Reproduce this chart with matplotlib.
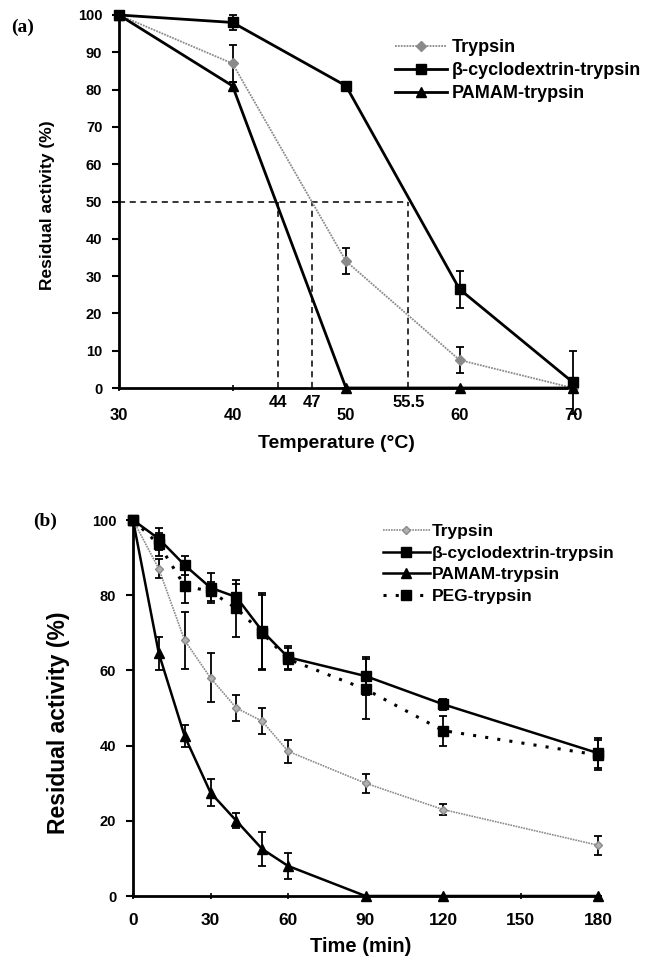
import matplotlib
matplotlib.use("Agg")
import matplotlib.pyplot as plt
import matplotlib.transforms as mtransforms

plt.rcParams['font.family'] = ['Liberation Sans', 'DejaVu Sans']
plt.rcParams['font.weight'] = 'bold'
plt.rcParams['axes.labelweight'] = 'bold'

# panel (a) thermal stability
temp = [30, 40, 50, 60, 70]
a_tryp = [100, 87, 34, 7.5, 0]
a_tryp_err = [0, 5, 3.5, 3.5, 0]
a_cd = [100, 98, 81, 26.5, 1.5]
a_cd_err = [0, 2, 0.5, 5, 8.5]
a_pamam = [100, 81, 0, 0, 0]
a_pamam_err = [0, 1, 0, 0, 0]
t50_temps = [44, 47, 55.5]
t50_labels = ['44', '47', '55.5']

# panel (b) time course
tmin = [0, 10, 20, 30, 40, 50, 60, 90, 120, 180]
b_tryp = [100, 87, 68, 58, 50, 46.5, 38.5, 30, 23, 13.5]
b_tryp_err = [0, 2.5, 7.5, 6.5, 3.5, 3.5, 3, 2.5, 1.5, 2.5]
b_cd = [100, 95, 88, 82, 79.5, 70.5, 63.5, 58.5, 51, 38]
b_cd_err = [0, 3, 2.5, 4, 3.5, 10, 3, 5, 1.5, 4]
b_pamam = [100, 64.5, 42.5, 27.5, 20, 12.5, 8, 0, 0, 0]
b_pamam_err = [0, 4.5, 3, 3.5, 2, 4.5, 3.5, 0, 0, 0]
b_peg = [100, 93.5, 82.5, 81, 76.5, 70, 63, 55, 44, 37.5]
b_peg_err = [0, 3, 4.5, 2.5, 7.5, 10, 3, 8, 4, 4]

W, H = 649, 967
fig = plt.figure(figsize=(W / 100, H / 100), dpi=100)


def box(l, r, t, b):
    return [l / W, 1 - b / H, (r - l) / W, (b - t) / H]


gray = '#8a8a8a'
dotted = (0, (1, 0.6))
peg_ls = (0, (1, 3))


def style(ax, xpad):
    for s in ['top', 'right']:
        ax.spines[s].set_visible(False)
    ax.spines['left'].set_linewidth(2)
    ax.spines['bottom'].set_linewidth(2)
    ax.tick_params(axis='y', direction='out', length=5, width=1.5, pad=7, labelsize=10.5)
    ax.tick_params(axis='x', direction='inout', length=5, width=1.2, pad=xpad, labelsize=12)


def series(ax, x, y, err, **kw):
    ax.errorbar(x, y, yerr=err, fmt='none', ecolor='black', elinewidth=1.3,
                capsize=3, capthick=1.3, clip_on=False, zorder=3)
    ax.plot(x, y, clip_on=False, zorder=4, **kw)


# ---------- (a) ----------
ax1 = fig.add_axes(box(119, 573, 15, 388))
style(ax1, 12)
ax1.set_xlim(30, 70)
ax1.set_ylim(0, 100)
ax1.set_xticks(temp)
ax1.set_yticks(range(0, 101, 10))

series(ax1, temp, a_tryp, a_tryp_err, color=gray, ls=dotted, lw=1.3,
       marker='D', ms=5, mfc=gray, mec=gray, label='Trypsin')
series(ax1, temp, a_cd, a_cd_err, color='black', lw=2, marker='s', ms=6.5,
       label='β-cyclodextrin-trypsin')
series(ax1, temp, a_pamam, a_pamam_err, color='black', lw=2, marker='^', ms=7,
       label='PAMAM-trypsin')

ax1.plot([30, 55.5], [50, 50], color='black', ls=(0, (4, 3)), lw=1.1, zorder=2)
for t in t50_temps:
    ax1.plot([t, t], [0, 50], color='black', ls=(0, (4, 3)), lw=1.1, zorder=2)
trans = mtransforms.blended_transform_factory(ax1.transData, ax1.transAxes)
for t, lab in zip(t50_temps, t50_labels):
    ax1.text(t, -0.04, lab, transform=trans, ha='center', va='center', fontsize=12)

ax1.set_xlabel('Temperature (°C)', fontsize=14)
ax1.xaxis.set_label_coords(0.48, -0.125)
ax1.set_ylabel('Residual activity (%)', fontsize=12.5)
ax1.yaxis.set_label_coords(-0.14, 0.49)

ax1.legend(loc='upper left', bbox_to_anchor=(395 / W, 1 - 39.5 / H),
           bbox_transform=fig.transFigure, frameon=False, fontsize=13,
           handlelength=2.9, handletextpad=0.22, labelspacing=0.33, borderpad=0,
           borderaxespad=0)
fig.text(23 / W, 1 - 27 / H, '(a)', family='Liberation Serif', fontsize=14,
         fontweight='bold', ha='center', va='center')

# ---------- (b) ----------
ax2 = fig.add_axes(box(133, 598, 520, 896))
style(ax2, 10)
ax2.set_xlim(0, 180)
ax2.set_ylim(0, 100)
ax2.set_xticks(range(0, 181, 30))
ax2.set_yticks(range(0, 101, 20))
ax2.tick_params(axis='x', labelsize=12.5)

series(ax2, tmin, b_tryp, b_tryp_err, color=gray, ls=dotted, lw=1.2,
       marker='D', ms=4.5, mfc='#b0b0b0', mec=gray, label='Trypsin')
series(ax2, tmin, b_cd, b_cd_err, color='black', lw=1.8, marker='s', ms=6.5,
       label='β-cyclodextrin-trypsin')
series(ax2, tmin, b_pamam, b_pamam_err, color='black', lw=1.8, marker='^', ms=6.5,
       label='PAMAM-trypsin')
series(ax2, tmin, b_peg, b_peg_err, color='black', lw=2.2, ls=peg_ls,
       marker='s', ms=6.5, label='PEG-trypsin')

ax2.set_xlabel('Time (min)', fontsize=14.5)
ax2.xaxis.set_label_coords(0.49, -0.11)
ax2.set_ylabel('Residual activity (%)', fontsize=16.5)
ax2.yaxis.set_label_coords(-0.135, 0.46)

ax2.legend(loc='upper left', bbox_to_anchor=(383 / W, 1 - 523.5 / H),
           bbox_transform=fig.transFigure, frameon=False, fontsize=12.5,
           handlelength=2.7, handletextpad=0.12, labelspacing=0.39, borderpad=0,
           borderaxespad=0)
fig.text(45 / W, 1 - 521 / H, '(b)', family='Liberation Serif', fontsize=14,
         fontweight='bold', ha='center', va='center')

fig.savefig('out.png', dpi=100)
